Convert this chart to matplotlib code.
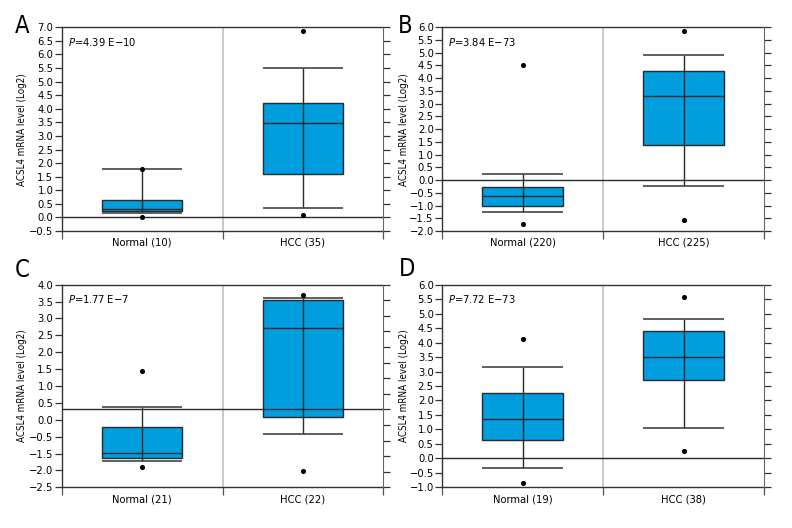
import matplotlib
matplotlib.use('Agg')
import matplotlib.pyplot as plt
from matplotlib import font_manager
import numpy as np

# 字体：优先使用窄体
font_list = font_manager.fontManager.ttflist
names = {f.name for f in font_list}
if 'Liberation Sans Narrow' in names:
    plt.rcParams['font.family'] = ['Liberation Sans Narrow', 'DejaVu Sans']
else:
    plt.rcParams['font.family'] = ['DejaVu Sans']
    if any(f.name == 'DejaVu Sans' and 'condensed' in str(f.stretch) for f in font_list):
        plt.rcParams['font.stretch'] = 'condensed'
plt.rcParams['mathtext.fontset'] = 'dejavusans'

# 数据
panel_letters = ['A', 'B', 'C', 'D']
group_labels = [['Normal (10)', 'HCC (35)'],
                ['Normal (220)', 'HCC (225)'],
                ['Normal (21)', 'HCC (22)'],
                ['Normal (19)', 'HCC (38)']]
p_texts = ['4.39 E\u221210', '3.84 E\u221273', '1.77 E\u22127', '7.72 E\u221273']

# 每组: [Normal, HCC]
whislo = [[0.15, 0.33], [-1.24, -0.22], [-1.67, -0.80], [-0.34, 1.05]]
q1 = [[0.23, 1.59], [-1.00, 1.36], [-1.55, -0.25], [0.65, 2.72]]
med = [[0.32, 3.47], [-0.64, 3.29], [-1.41, 2.61], [1.35, 3.51]]
q3 = [[0.64, 4.20], [-0.26, 4.27], [-0.55, 3.51], [2.27, 4.41]]
whishi = [[1.78, 5.50], [0.25, 4.90], [0.07, 3.58], [3.16, 4.80]]
fliers = [[[1.78, 0.00], [6.88, 0.10]],
          [[4.52, -1.74], [5.87, -1.58]],
          [[1.22, -1.86], [3.66, -1.99]],
          [[4.12, -0.86], [5.59, 0.27]]]

y_limits = [(-0.5, 7.0), (-2.0, 6.0), (-2.5, 4.0), (-1.0, 6.0)]
# C 图左侧刻度标签原图缺少 -1.0
c_tick_labels = ['4.0', '3.5', '3.0', '2.5', '2.0', '1.5', '1.0', '0.5', '0.0',
                 '\u22120.5', '\u22121.5', '\u22122.0', '\u22122.5']

W, H = 792, 528
box_color = '#009ddf'
edge = '#2a2a2a'
axes_px = [(61.7, 27.3, 383.3, 231.0), (442.0, 27.3, 764.3, 231.0),
           (61.7, 284.7, 383.3, 487.3), (442.0, 284.7, 764.3, 487.3)]
letter_px = [(22, 26), (405, 26), (22, 270), (407, 269)]
ylabel_x = [-0.108, -0.103, -0.108, -0.103]


def fmt(v):
    return f'{v:.1f}'.replace('-', '\u2212')


fig = plt.figure(figsize=(W / 100, H / 100), dpi=100)

for i in range(4):
    l, t, r, b = axes_px[i]
    ax = fig.add_axes([l / W, 1 - b / H, (r - l) / W, (b - t) / H])
    lo, hi = y_limits[i]
    ax.set_xlim(-0.5, 1.5)
    ax.set_ylim(lo, hi)

    # 中间分隔线
    ax.axvline(0.5, color='#c4c4c4', lw=1.3, zorder=1)
    # 零线
    ax.axhline(0, color=edge, lw=1.0, zorder=4)

    for g in range(2):
        ax.bar(g, q3[i][g] - q1[i][g], bottom=q1[i][g], width=0.5,
               color=box_color, edgecolor=edge, linewidth=1.0, zorder=2)
        ax.vlines(g, whislo[i][g], whishi[i][g], color=edge, lw=1.0, zorder=3)
        ax.hlines([whislo[i][g], whishi[i][g]], g - 0.25, g + 0.25,
                  color='#444444', lw=1.2, zorder=3)
        ax.hlines(med[i][g], g - 0.25, g + 0.25, color=edge, lw=1.0, zorder=3)
        ax.scatter([g, g], fliers[i][g], s=7, color='black', zorder=5)

    # 左侧刻度
    if panel_letters[i] == 'C':
        ax.set_yticks(np.linspace(hi, lo, len(c_tick_labels)))
        ax.set_yticklabels(c_tick_labels)
    else:
        ticks = np.arange(lo, hi + 0.01, 0.5)
        ax.set_yticks(ticks)
        ax.set_yticklabels([fmt(v) for v in ticks])
    ax.tick_params(axis='y', direction='out', length=5, width=0.9,
                   labelsize=8, pad=1, color='#333333')

    # 右侧刻度
    twin = ax.twinx()
    twin.set_ylim(lo, hi)
    twin.set_yticks(np.arange(lo, hi + 0.01, 0.5))
    twin.tick_params(axis='y', direction='out', length=5, width=0.9,
                     labelright=False, color='#333333')
    twin.spines['right'].set_color('#666666')
    for s in ['top', 'left', 'bottom']:
        twin.spines[s].set_visible(False)

    # x 轴
    ax.set_xticks([-0.5, 0.5, 1.5])
    ax.set_xticklabels([])
    ax.tick_params(axis='x', which='major', direction='out', length=6,
                   width=0.9, color='#555555')
    ax.set_xticks([0, 1], minor=True)
    ax.set_xticklabels(group_labels[i], minor=True)
    ax.tick_params(axis='x', which='minor', length=0, labelsize=8, pad=5)

    for s in ax.spines.values():
        s.set_linewidth(1.0)
        s.set_color('#333333')
    ax.spines['right'].set_visible(False)

    ax.set_ylabel('ACSL4 mRNA level (Log2)', fontsize=7)
    ax.yaxis.set_label_coords(ylabel_x[i], 0.5)

    ax.text(0.02, 0.93, r'$P$=' + p_texts[i], transform=ax.transAxes,
            fontsize=8, va='center', ha='left')

    fig.text(letter_px[i][0] / W, 1 - letter_px[i][1] / H, panel_letters[i],
             fontsize=17, ha='center', va='center')

fig.savefig('out.png', dpi=100)
